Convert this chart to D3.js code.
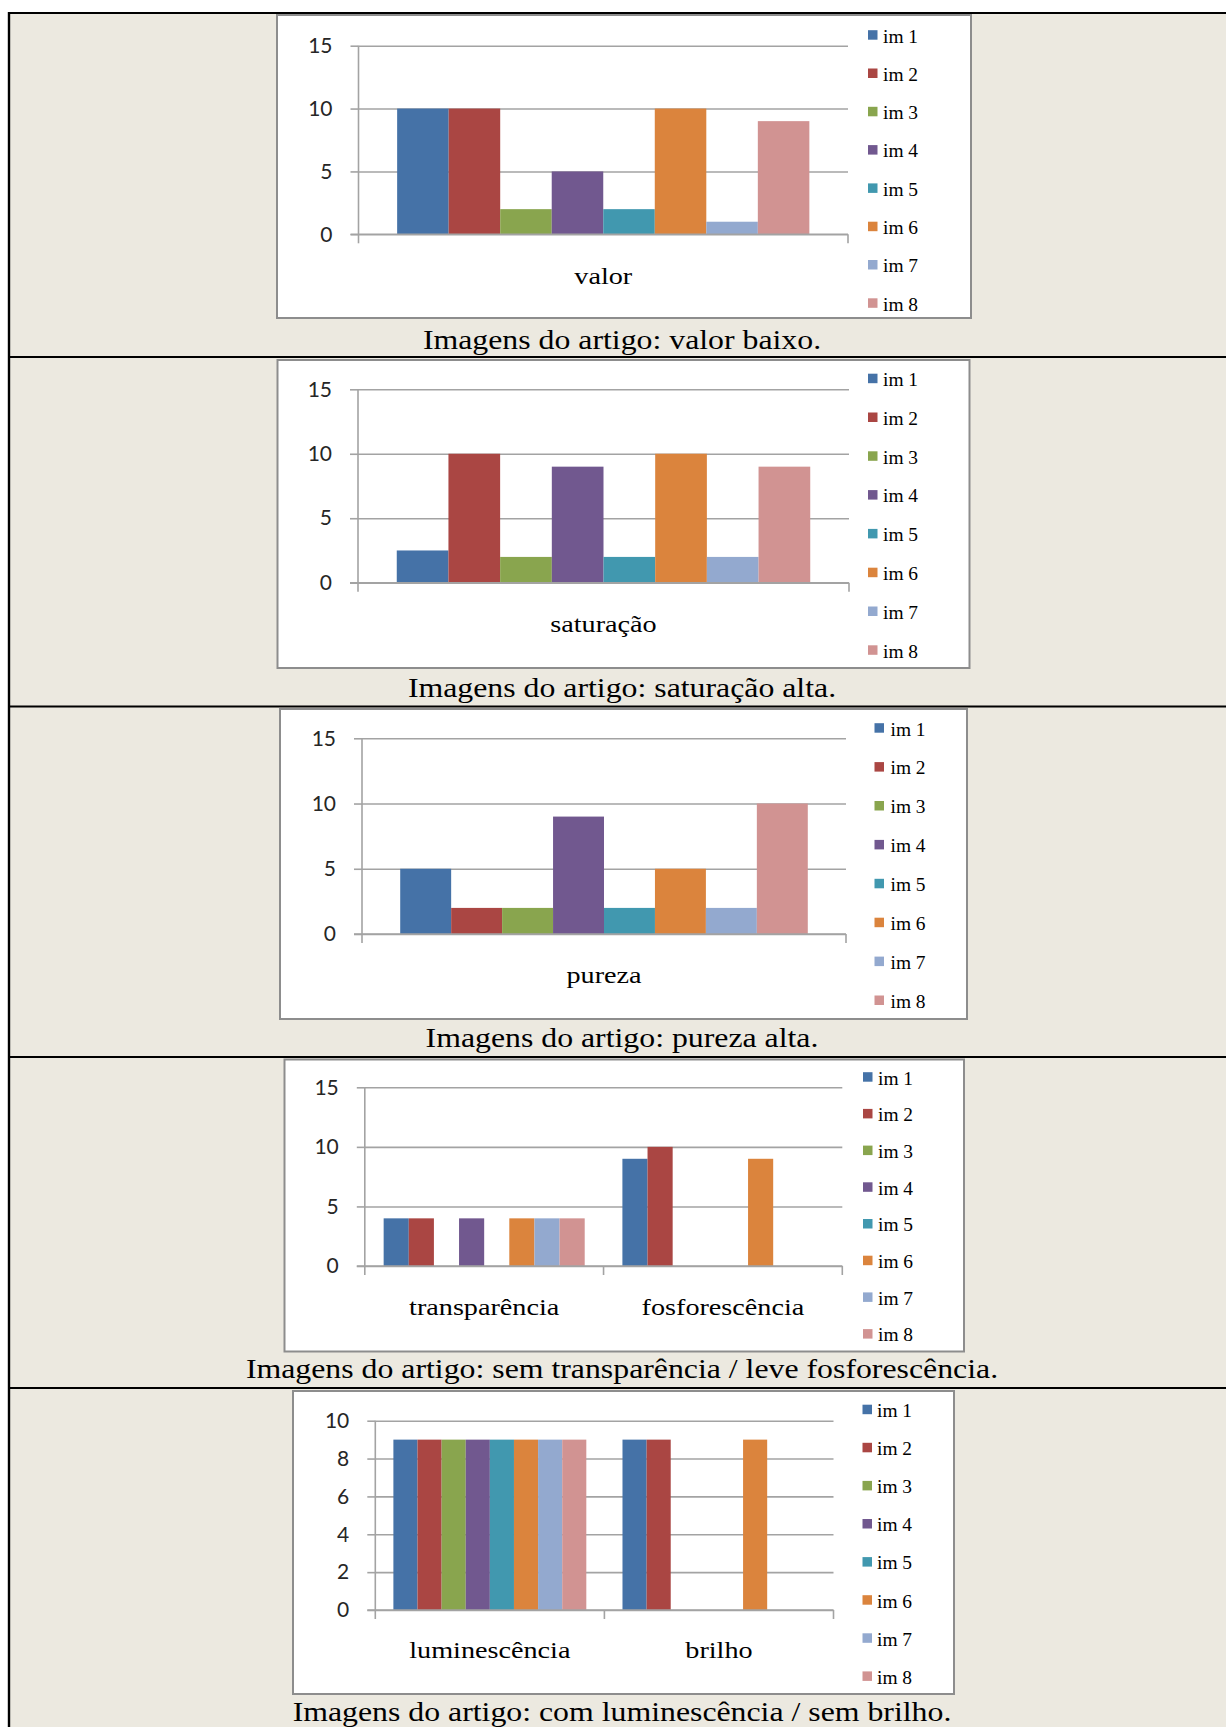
<!DOCTYPE html>
<html>
<head>
<meta charset="utf-8">
<script src="https://cdn.jsdelivr.net/npm/d3@7"></script>
<style>
  html, body { margin: 0; padding: 0; background: #ffffff; }
  svg { display: block; }
</style>
</head>
<body>
<svg id="page" width="1226" height="1727"></svg>
<script>
// Series (one per image from the article) and their colours
const seriesNames = ["im 1", "im 2", "im 3", "im 4", "im 5", "im 6", "im 7", "im 8"];
const seriesColors = ["#4572A7", "#AA4643", "#89A54E", "#71588F", "#4198AF", "#DB843D", "#93A9CF", "#D19392"];

// Panel 1: valor
const valorCategories = ["valor"];
const valorValues = [[10, 10, 2, 5, 2, 10, 1, 9]];

// Panel 2: saturação
const saturacaoCategories = ["saturação"];
const saturacaoValues = [[2.5, 10, 2, 9, 2, 10, 2, 9]];

// Panel 3: pureza
const purezaCategories = ["pureza"];
const purezaValues = [[5, 2, 2, 9, 2, 5, 2, 10]];

// Panel 4: transparência / fosforescência
const transpCategories = ["transparência", "fosforescência"];
const transpValues = [
  [4, 4, 0, 4, 0, 4, 4, 4],
  [9, 10, 0, 0, 0, 9, 0, 0]
];

// Panel 5: luminescência / brilho
const lumCategories = ["luminescência", "brilho"];
const lumValues = [
  [9, 9, 9, 9, 9, 9, 9, 9],
  [9, 9, 0, 0, 0, 9, 0, 0]
];

// Axis tick labels
const ticksTo15 = [0, 5, 10, 15];
const ticksTo10 = [0, 2, 4, 6, 8, 10];

// Table captions under each chart
const captions = [
  "Imagens do artigo: valor baixo.",
  "Imagens do artigo: saturação alta.",
  "Imagens do artigo: pureza alta.",
  "Imagens do artigo: sem transparência / leve fosforescência.",
  "Imagens do artigo: com luminescência / sem brilho."
];

// ---- layout of the table and of each chart frame ----
const panels = [
  { cats: valorCategories, vals: valorValues, ticks: ticksTo15, caption: captions[0],
    box: [277, 15, 971, 318], plot: [358.5, 848, 234.3, 45.7],
    legend: [868, 883, 35, 38.3], catY: 283.5, capY: 348.5 },
  { cats: saturacaoCategories, vals: saturacaoValues, ticks: ticksTo15, caption: captions[1],
    box: [277.5, 360, 969.5, 668], plot: [358, 849, 582.7, 389.3],
    legend: [868, 883, 378.5, 38.8], catY: 632, capY: 696.5 },
  { cats: purezaCategories, vals: purezaValues, ticks: ticksTo15, caption: captions[2],
    box: [280, 709, 967, 1019], plot: [362, 846, 934, 738.3],
    legend: [874.5, 890.5, 728, 38.9], catY: 983.3, capY: 1046.5 },
  { cats: transpCategories, vals: transpValues, ticks: ticksTo15, caption: captions[3],
    box: [284.5, 1059.5, 964, 1351.5], plot: [364.8, 842.3, 1266, 1087.3],
    legend: [863, 878, 1077, 36.7], catY: 1315, capY: 1378.3 },
  { cats: lumCategories, vals: lumValues, ticks: ticksTo10, caption: captions[4],
    box: [293, 1391, 954, 1694], plot: [375.3, 833.5, 1610, 1420.7],
    legend: [862.5, 877, 1409.5, 38.1], catY: 1658.3, capY: 1720.5 }
];

const rowLines = [13, 357, 706.5, 1057, 1388];
const serifFont = "'Liberation Serif', 'Times New Roman', serif";
const sansFont = "Lato, 'Open Sans', sans-serif";
const gridColor = "#a3a3a3";

const svg = d3.select("#page");

// page: white margin, beige table cells
svg.append("rect").attr("x", 0).attr("y", 0).attr("width", 1226).attr("height", 1727).attr("fill", "#ffffff");
svg.append("rect").attr("x", 9).attr("y", 13).attr("width", 1217).attr("height", 1714).attr("fill", "#ECE9E0");

// serif lettering, widened horizontally by factor sx
function stretchedText(parent, x, y, str, size, anchor, sx) {
  return parent.append("text")
    .attr("transform", `translate(${x},${y}) scale(${sx},1)`)
    .attr("text-anchor", anchor)
    .attr("font-family", serifFont)
    .attr("font-size", size)
    .attr("fill", "#000")
    .text(str);
}

panels.forEach(p => {
  const g = svg.append("g");
  const [bx0, by0, bx1, by1] = p.box;
  const [xL, xR, y0, yTop] = p.plot;

  g.append("rect")
    .attr("x", bx0).attr("y", by0)
    .attr("width", bx1 - bx0).attr("height", by1 - by0)
    .attr("fill", "#ffffff")
    .attr("stroke", "#8d8d8d").attr("stroke-width", 2);

  const y = d3.scaleLinear().domain([0, d3.max(p.ticks)]).range([y0, yTop]);
  const x0 = d3.scaleBand().domain(p.cats).range([xL, xR]).paddingInner(0).paddingOuter(0);
  const x1 = d3.scaleBand().domain(seriesNames).range([0, x0.bandwidth()])
    .paddingInner(0).paddingOuter(0.75);

  // horizontal gridlines
  const grid = g.append("g")
    .attr("transform", `translate(${xL},0)`)
    .call(d3.axisLeft(y).tickValues(p.ticks).tickSize(-(xR - xL)).tickFormat(""));
  grid.select(".domain").remove();
  grid.selectAll(".tick line").attr("stroke", gridColor).attr("stroke-width", 1.6);

  // bars
  p.cats.forEach((c, ci) => {
    g.append("g").selectAll("rect")
      .data(p.vals[ci].map((v, si) => ({ v, si })).filter(d => d.v > 0))
      .join("rect")
      .attr("x", d => x0(c) + x1(seriesNames[d.si]))
      .attr("y", d => y(d.v))
      .attr("width", x1.bandwidth())
      .attr("height", d => y(0) - y(d.v))
      .attr("fill", d => seriesColors[d.si]);
  });

  // value axis with outer tick marks and labels
  const yAxis = g.append("g")
    .attr("transform", `translate(${xL},0)`)
    .call(d3.axisLeft(y).tickValues(p.ticks).tickSize(8).tickPadding(18).tickSizeOuter(0));
  yAxis.select(".domain").remove();
  yAxis.selectAll(".tick line").attr("stroke", gridColor).attr("stroke-width", 1.6);
  yAxis.selectAll(".tick text")
    .attr("font-family", sansFont).attr("font-size", 21).attr("fill", "#262626");

  // vertical axis line
  g.append("line")
    .attr("x1", xL).attr("x2", xL).attr("y1", yTop).attr("y2", y0 + 9)
    .attr("stroke", gridColor).attr("stroke-width", 1.6);

  // category axis: baseline and tick marks at category boundaries
  g.append("line")
    .attr("x1", xL - 8).attr("x2", xR).attr("y1", y(0)).attr("y2", y(0))
    .attr("stroke", gridColor).attr("stroke-width", 1.6);
  const bounds = p.cats.map(c => x0(c)).concat([xR]);
  g.append("g").selectAll("line").data(bounds.slice(1)).join("line")
    .attr("x1", d => d).attr("x2", d => d)
    .attr("y1", y(0)).attr("y2", y(0) + 9)
    .attr("stroke", gridColor).attr("stroke-width", 1.6);

  // category labels
  p.cats.forEach(c => {
    stretchedText(g, x0(c) + x0.bandwidth() / 2, p.catY, c, 23.5, "middle", 1.2);
  });

  // legend
  const [sqX, txX, row0, step] = p.legend;
  seriesNames.forEach((name, i) => {
    const ry = row0 + i * step;
    g.append("rect")
      .attr("x", sqX).attr("y", ry - 4.8)
      .attr("width", 9.5).attr("height", 9.5)
      .attr("fill", seriesColors[i]);
    stretchedText(g, txX, ry + 7.5, name, 18, "start", 1.08);
  });

  // caption under the chart
  stretchedText(svg, 622, p.capY, p.caption, 26.5, "middle", 1.2);
});

// table rules
svg.append("g").selectAll("line").data(rowLines).join("line")
  .attr("x1", 8).attr("x2", 1226).attr("y1", d => d).attr("y2", d => d)
  .attr("stroke", "#000").attr("stroke-width", 2.2);
svg.append("line")
  .attr("x1", 9).attr("x2", 9).attr("y1", 12).attr("y2", 1727)
  .attr("stroke", "#000").attr("stroke-width", 2.4);
</script>
</body>
</html>
